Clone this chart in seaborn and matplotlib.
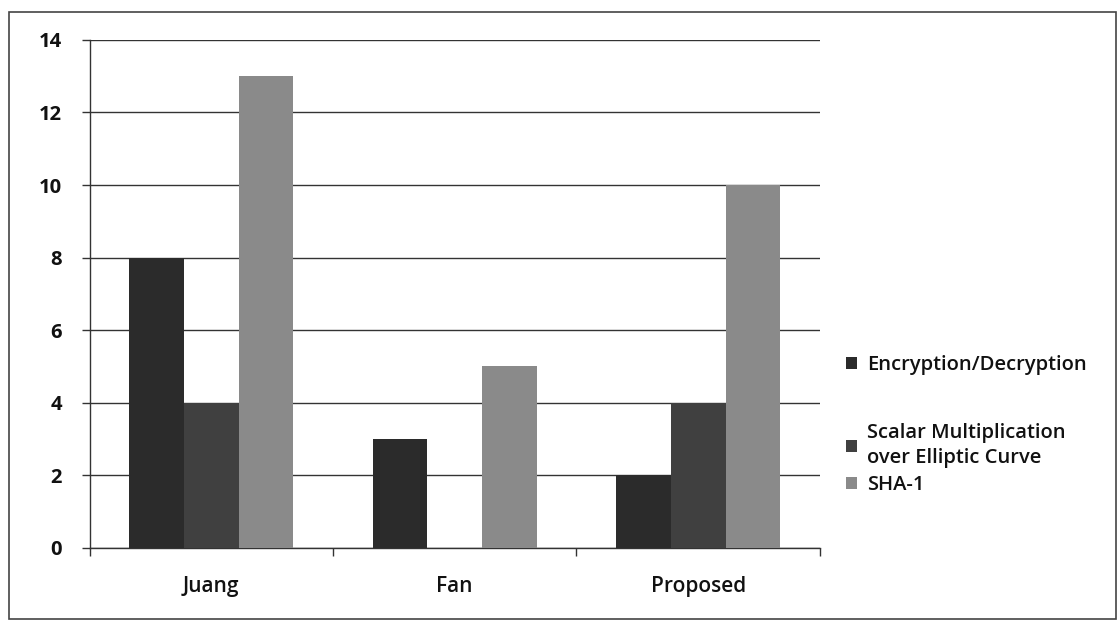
import matplotlib
matplotlib.use("Agg")
import matplotlib.pyplot as plt
import matplotlib.patches as mpatches
import seaborn as sns
import pandas as pd
from matplotlib.ticker import FixedLocator

categories = ["Juang", "Fan", "Proposed"]
series_names = ["Encryption/Decryption", "Scalar Multiplication\nover Elliptic Curve", "SHA-1"]
enc_dec = [8, 3, 2]
scalar_mult = [4, 0, 4]
sha1 = [13, 5, 10]
colors = ["#2b2b2b", "#404040", "#8a8a8a"]

rows = []
for s, vals in zip(series_names, [enc_dec, scalar_mult, sha1]):
    for c, v in zip(categories, vals):
        rows.append({"cat": c, "series": s, "value": v})
df = pd.DataFrame(rows)

sns.set_theme(style="white")
plt.rcParams['font.family'] = ['Open Sans', 'DejaVu Sans']

fig = plt.figure(figsize=(11.2, 6.22), dpi=100)
ax = fig.add_axes([0.080, 0.119, 0.652, 0.817])

sns.barplot(data=df, x="cat", y="value", hue="series", palette=colors,
            width=0.675, saturation=1, ax=ax, legend=False, zorder=3,
            linewidth=0, edgecolor="none")

ax.set_ylim(0, 14)
ax.set_yticks(range(0, 15, 2))
ax.set_xlim(-0.5, 2.5)
ax.yaxis.grid(True, color="#333333", linewidth=1.0, zorder=0)
ax.set_axisbelow(True)
ax.set_xlabel("")
ax.set_ylabel("")
for side in ["top", "right"]:
    ax.spines[side].set_visible(False)
for side in ["left", "bottom"]:
    ax.spines[side].set_color("#333333")
    ax.spines[side].set_linewidth(1.0)

ax.tick_params(axis="y", which="both", left=True, length=6, width=1, color="#333333",
               labelsize=14.5, pad=14, labelcolor="#111111")
ax.tick_params(axis="x", which="major", bottom=False, labelsize=15, pad=14,
               labelcolor="#111111")
ax.xaxis.set_minor_locator(FixedLocator([-0.5, 0.5, 1.5, 2.5]))
ax.tick_params(axis="x", which="minor", bottom=True, length=6, width=1, color="#333333")
for lbl in ax.get_yticklabels():
    lbl.set_fontweight("bold")
for lbl in ax.get_xticklabels():
    lbl.set_fontweight("semibold")

handles = [mpatches.Patch(facecolor=c, edgecolor="none") for c in colors]
leg_kw = dict(frameon=False, fontsize=14.5, handlelength=0.55, handleheight=0.55,
              handletextpad=0.5, labelspacing=0.35, loc="center left")
leg1 = fig.legend(handles[:1], series_names[:1], bbox_to_anchor=(0.739, 0.413), **leg_kw)
leg2 = fig.legend(handles[1:], series_names[1:], bbox_to_anchor=(0.739, 0.262), **leg_kw)
for lg in (leg1, leg2):
    for t in lg.get_texts():
        t.set_fontweight("semibold")
        t.set_color("#111111")
        t.set_linespacing(1.3)

border = mpatches.Rectangle((0.008, 0.005), 0.988, 0.975, transform=fig.transFigure,
                            fill=False, edgecolor="#444444", linewidth=1.2)
fig.patches.append(border)

fig.savefig("out.png", dpi=100, facecolor="white")
